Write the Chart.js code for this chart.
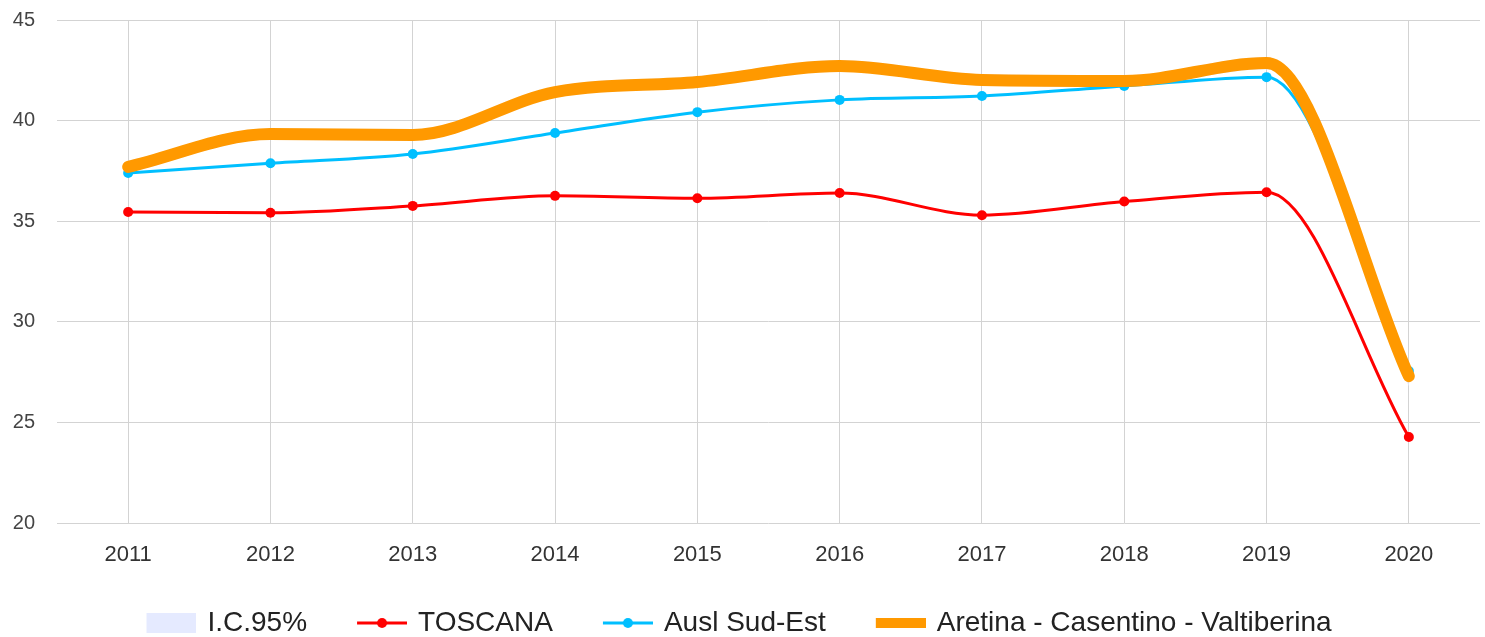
<!DOCTYPE html>
<html>
<head>
<meta charset="utf-8">
<script src="https://cdn.jsdelivr.net/npm/chart.js@4"></script>
<style>
  html, body { margin: 0; padding: 0; background: #fff; }
  #wrap { width: 1485px; height: 637px; position: relative; }
</style>
</head>
<body>
<div id="wrap"><canvas id="c"></canvas></div>
<script>
const years = ['2011','2012','2013','2014','2015','2016','2017','2018','2019','2020'];
const toscana = [35.46, 35.42, 35.76, 36.26, 36.14, 36.40, 35.30, 35.98, 36.44, 24.27];
const auslSudEst = [37.40, 37.88, 38.34, 39.38, 40.42, 41.03, 41.22, 41.72, 42.16, 27.55];
const aretina = [37.70, 39.33, 39.28, 41.42, 41.92, 42.71, 42.02, 41.97, 42.86, 27.30];
const icUpper = [38.00, 39.60, 39.55, 41.70, 42.20, 43.00, 42.30, 42.25, 43.15, 27.80];
const icLower = [37.40, 39.05, 39.00, 41.15, 41.65, 42.45, 41.75, 41.70, 42.55, 26.80];
const yTicks = { min: 20, max: 45, step: 5 };

const FONT = '"Liberation Sans", Arial, sans-serif';

// legend icon canvases: 77px wide, icon occupies the right 50px
function makeIcon(h, draw) {
  const cv = document.createElement('canvas');
  cv.width = 77; cv.height = h;
  const g = cv.getContext('2d');
  g.translate(27, 0);
  draw(g);
  return cv;
}
const iconIC = makeIcon(20, g => { g.fillStyle = '#e5eaff'; g.fillRect(0, 0, 50, 20); });
const lineIcon = col => makeIcon(12, g => {
  g.strokeStyle = col; g.lineWidth = 3; g.beginPath(); g.moveTo(0, 6); g.lineTo(50, 6); g.stroke();
  g.fillStyle = col; g.beginPath(); g.arc(25, 6, 5, 0, Math.PI * 2); g.fill();
});
const iconTos = lineIcon('#ff0000');
const iconAusl = lineIcon('#00bfff');
const iconAre = makeIcon(10, g => { g.fillStyle = '#ff9900'; g.fillRect(0, 0, 50, 10); });
const icons = [iconIC, null, iconTos, iconAusl, iconAre];

const shiftLegend = {
  id: 'shiftLegend',
  afterLayout(chart) {
    const lg = chart.legend;
    if (lg) { lg.top += 10; lg.bottom += 10; lg.left -= 15; lg.right -= 15; }
  }
};

new Chart(document.getElementById('c'), {
  type: 'line',
  data: {
    labels: years,
    datasets: [
      { label: 'I.C.95%', data: icUpper, borderWidth: 0, borderColor: 'rgba(0,0,0,0)',
        backgroundColor: '#e5eaff', fill: '+1', pointRadius: 0, cubicInterpolationMode: 'monotone', order: 4 },
      { label: '_lower', data: icLower, borderWidth: 0, borderColor: 'rgba(0,0,0,0)',
        backgroundColor: '#e5eaff', fill: false, pointRadius: 0, cubicInterpolationMode: 'monotone', order: 5 },
      { label: 'TOSCANA', data: toscana, borderColor: '#ff0000', backgroundColor: '#ff0000',
        borderWidth: 3, pointRadius: 5, pointBorderWidth: 0, fill: false, cubicInterpolationMode: 'monotone', order: 3 },
      { label: 'Ausl Sud-Est', data: auslSudEst, borderColor: '#00bfff', backgroundColor: '#00bfff',
        borderWidth: 3, pointRadius: 5, pointBorderWidth: 0, fill: false, cubicInterpolationMode: 'monotone', order: 2 },
      { label: 'Aretina - Casentino - Valtiberina', data: aretina, borderColor: '#ff9900', backgroundColor: '#ff9900',
        borderWidth: 12, borderCapStyle: 'round', borderJoinStyle: 'round', pointRadius: 0, fill: false,
        cubicInterpolationMode: 'monotone', order: 1 }
    ]
  },
  options: {
    responsive: true,
    maintainAspectRatio: false,
    animation: false,
    layout: { padding: { top: 20, right: 1, left: 0, bottom: 0 } },
    plugins: {
      tooltip: { enabled: false },
      legend: {
        position: 'bottom',
        labels: {
          usePointStyle: true,
          pointStyleWidth: 71,
          padding: 26,
          color: '#222',
          font: { family: FONT, size: 28 },
          generateLabels(chart) {
            const items = Chart.defaults.plugins.legend.labels.generateLabels(chart);
            items.forEach(it => { it.pointStyle = icons[it.datasetIndex]; });
            return items.filter(it => it.datasetIndex !== 1)
                        .sort((a, b) => a.datasetIndex - b.datasetIndex);
          }
        }
      }
    },
    scales: {
      x: {
        offset: true,
        grid: { offset: false, color: '#d3d3d3', drawTicks: false },
        border: { display: false },
        ticks: { color: '#333', font: { family: FONT, size: 22 }, padding: 19, maxRotation: 0 },
        afterFit(s) { s.height = 50; }
      },
      y: {
        min: yTicks.min, max: yTicks.max,
        grid: { color: '#d3d3d3', drawTicks: false },
        border: { display: false },
        ticks: { stepSize: yTicks.step, color: '#444', font: { family: FONT, size: 20 }, padding: 22 },
        afterFit(s) { s.width = 57; s.paddingTop = 0; s.paddingBottom = 0; }
      }
    }
  },
  plugins: [shiftLegend]
});
</script>
</body>
</html>
